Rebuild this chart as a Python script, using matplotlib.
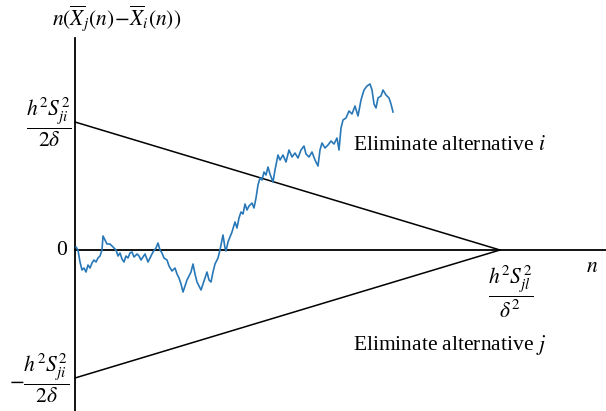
import numpy as np
import matplotlib
matplotlib.use("Agg")
import matplotlib.pyplot as plt

plt.rcParams["font.family"] = ["Liberation Serif", "DejaVu Serif"]
plt.rcParams["mathtext.fontset"] = "stix"

# boundary parameters (in plot units)
half_width = 128.0   # h^2 S_ji^2 / (2 delta)
n_end = 425.0        # h^2 S_jl^2 / delta^2

# sample path of n(Xbar_j(n) - Xbar_i(n))
walk_n = [1, 3, 5, 7, 9, 11, 13, 15, 17, 19, 21, 23, 25, 27, 28, 30, 32, 35, 38, 41,
          43, 45, 47, 49, 51, 53, 55, 57, 59, 62, 64, 66, 68, 70, 73, 75, 78, 81, 83, 85,
          87, 89, 92, 94, 97, 100, 102, 104, 106, 108, 110, 112, 114, 116, 118, 120, 122, 124, 126, 128,
          130, 132, 134, 136, 138, 140, 143, 145, 147, 148, 150, 151, 153, 155, 157, 160, 162, 164, 166, 168,
          170, 172, 174, 177, 179, 181, 183, 185, 187, 189, 191, 193, 195, 198, 200, 203, 205, 208, 211, 214,
          217, 220, 223, 226, 229, 231, 234, 237, 240, 243, 245, 247, 250, 253, 256, 259, 262, 264, 266, 268,
          271, 274, 277, 280, 283, 286, 289, 292, 295, 297, 299, 301, 303, 306, 308, 311, 314, 316, 318]
walk_y = [3, 0, -12, -20, -18, -22, -15, -18, -13, -10, -12, -8, -6, 0, 14, 10, 6, 6, 3, 0,
          -6, -3, -9, -12, -6, -8, -3, -2, -7, -4, -6, -10, -7, -4, -12, -8, -2, 2, 7, 0,
          -3, -8, -10, -16, -21, -18, -24, -28, -34, -42, -36, -30, -26, -22, -14, -24, -32, -36, -40, -34,
          -28, -22, -30, -32, -22, -14, -8, 0, 10, 15, 2, -1, 8, 13, 18, 28, 22, 32, 38, 36,
          46, 40, 44, 47, 42, 52, 65, 72, 70, 78, 75, 83, 76, 68, 80, 95, 90, 95, 88, 100,
          93, 97, 92, 100, 104, 96, 93, 98, 90, 84, 100, 107, 102, 105, 109, 106, 112, 100, 122, 130,
          132, 139, 136, 144, 134, 150, 160, 164, 166, 160, 146, 142, 152, 154, 160, 155, 152, 146, 138]

fig = plt.figure(figsize=(6.06, 4.11), dpi=100)
ax = fig.add_axes([0, 0, 1, 1])
ax.set_xlim(-75, 531)
ax.set_ylim(-161, 250)
ax.axis("off")

# axes through the origin
ax.plot([0, 0], [-161, 212], color="black", lw=1.3)
ax.plot([0, 531], [0, 0], color="black", lw=1.3)

# elimination boundaries
ax.plot([0, n_end], [half_width, 0], color="black", lw=1.1)
ax.plot([0, n_end], [-half_width, 0], color="black", lw=1.1)

ax.plot(walk_n, walk_y, color="#2878b8", lw=1.2)

fs = 15.5
ax.text(42, 232, r"$n(\overline{X}_j(n)\!-\!\overline{X}_i(n))$", fontsize=fs,
        ha="center", va="center")
ax.text(-26, half_width, r"$\dfrac{h^2S_{ji}^2}{2\delta}$", fontsize=fs,
        ha="center", va="center")
ax.text(-13, 0, "0", fontsize=fs, ha="center", va="center")
ax.text(-36, -half_width, r"$-\dfrac{h^2S_{ji}^2}{2\delta}$", fontsize=fs,
        ha="center", va="center")
ax.text(436, -42, r"$\dfrac{h^2S_{jl}^2}{\delta^2}$", fontsize=fs,
        ha="center", va="center")
ax.text(517, -17, r"$n$", fontsize=fs, ha="center", va="center")
ax.text(278, 105, r"Eliminate alternative $i$", fontsize=fs, va="center")
ax.text(278, -95, r"Eliminate alternative $j$", fontsize=fs, va="center")

fig.savefig("out.png", dpi=100)
